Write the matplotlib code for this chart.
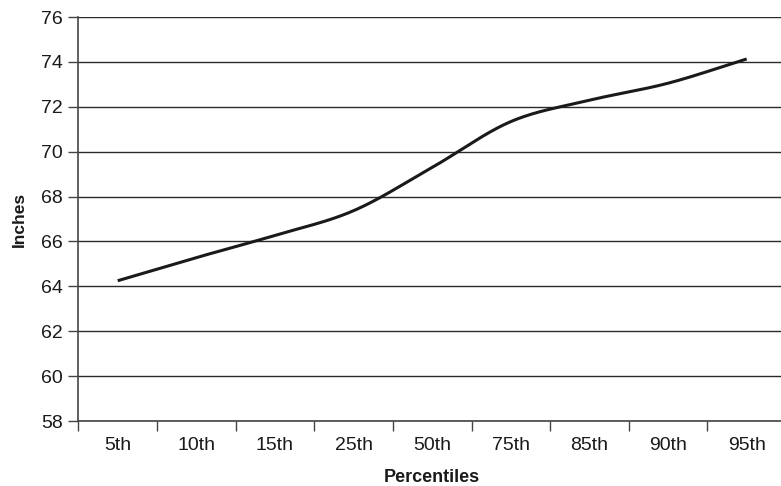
import numpy as np
import matplotlib
matplotlib.use("Agg")
import matplotlib.pyplot as plt

plt.rcParams['font.family'] = ['Liberation Sans', 'DejaVu Sans']

percentiles = ["5th", "10th", "15th", "25th", "50th", "75th", "85th", "90th", "95th"]
inches = [64.25, 65.28, 66.27, 67.37, 69.30, 71.34, 72.29, 73.05, 74.13]
y_ticks = [58, 60, 62, 64, 66, 68, 70, 72, 74, 76]


def smooth_curve(x, y, steps=30):
    """Catmull-Rom style smoothed path through the given points."""
    x = np.asarray(x, float)
    y = np.asarray(y, float)
    px = np.concatenate([[2 * x[0] - x[1]], x, [2 * x[-1] - x[-2]]])
    py = np.concatenate([[2 * y[0] - y[1]], y, [2 * y[-1] - y[-2]]])
    xs, ys = [], []
    t = np.linspace(0, 1, steps, endpoint=False)
    for i in range(1, len(px) - 2):
        p0, p1, p2, p3 = (np.array([px[j], py[j]]) for j in range(i - 1, i + 3))
        c1 = p1 + (p2 - p0) / 6
        c2 = p2 - (p3 - p1) / 6
        b = ((1 - t) ** 3)[:, None] * p1 + (3 * (1 - t) ** 2 * t)[:, None] * c1 \
            + (3 * (1 - t) * t ** 2)[:, None] * c2 + (t ** 3)[:, None] * p2
        xs.extend(b[:, 0])
        ys.extend(b[:, 1])
    xs.append(x[-1])
    ys.append(y[-1])
    return np.array(xs), np.array(ys)


fig = plt.figure(figsize=(7.81, 4.86), dpi=100)
ax = fig.add_axes([78.4 / 781, 1 - 421 / 486, (786 - 78.4) / 781, (421 - 17) / 486])

pos = np.arange(len(percentiles))
sx, sy = smooth_curve(pos, inches)
ax.plot(sx, sy, color="#1a1a1a", lw=2.2, solid_capstyle="butt", zorder=3)

ax.set_xlim(-0.5, len(percentiles) - 0.5)
ax.set_ylim(58, 76)
ax.set_yticks(y_ticks)
ax.yaxis.grid(True, color="#2a2a2a", lw=1.0)
ax.set_axisbelow(True)

ax.set_xticks(pos)
ax.set_xticklabels(percentiles)
ax.set_xticks(np.arange(-0.5, len(percentiles), 1.0), minor=True)
ax.tick_params(axis="x", which="major", length=0, pad=11.5, labelsize=14, colors="#1a1a1a")
ax.tick_params(axis="x", which="minor", length=7, width=1.0, color="#444444")
ax.tick_params(axis="y", length=7, width=1.0, color="#444444", pad=4, labelsize=14,
               labelcolor="#1a1a1a")

for side in ("top", "right"):
    ax.spines[side].set_visible(False)
for side in ("left", "bottom"):
    ax.spines[side].set_color("#444444")
    ax.spines[side].set_linewidth(1.2)

ax.set_xlabel("Percentiles", fontsize=13, fontweight="bold", labelpad=11, color="#1a1a1a")
ax.set_ylabel("Inches", fontsize=12.5, fontweight="bold", labelpad=10, color="#1a1a1a")

fig.savefig("out.png", dpi=100)
